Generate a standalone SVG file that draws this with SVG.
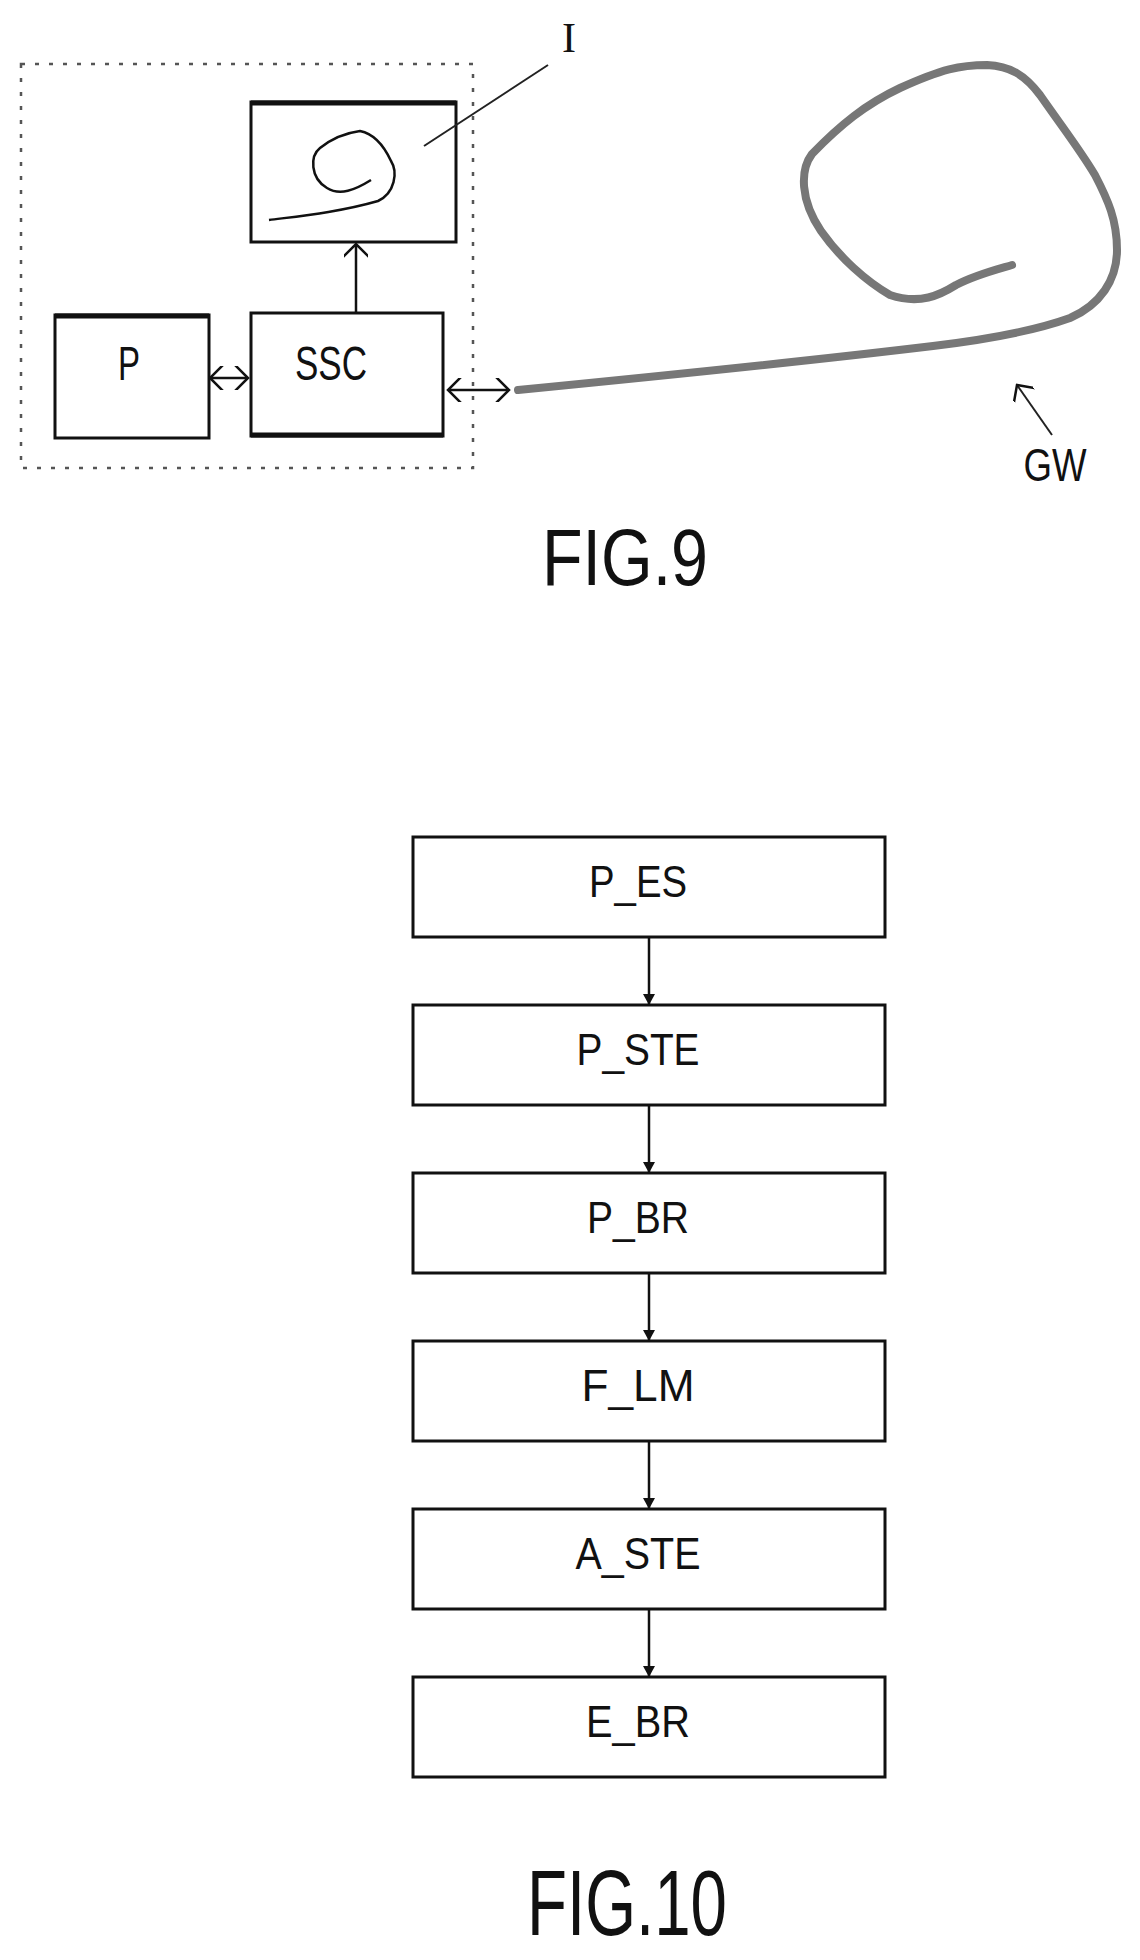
<svg xmlns="http://www.w3.org/2000/svg" width="1140" height="1960" viewBox="0 0 1140 1960">
<style>
.t{font-family:"Liberation Sans",Arial,sans-serif;fill:#111;text-anchor:middle}
.box{fill:#fff;stroke:#111;stroke-width:3}
.ln{stroke:#111;stroke-width:2.5;fill:none}
</style>
<defs>
<marker id="fa" markerWidth="12" markerHeight="12" refX="10" refY="6" orient="auto" markerUnits="userSpaceOnUse"><path d="M0,0 L11,6 L0,12 z" fill="#111"/></marker>
<marker id="sa" markerWidth="20" markerHeight="24" refX="18" refY="12" orient="auto-start-reverse" markerUnits="userSpaceOnUse"><path d="M2,-4 L18,12 L2,28" fill="none" stroke="#111" stroke-width="2.5"/></marker>
</defs>
<rect x="21" y="64" width="452" height="404" fill="none" stroke="#555" stroke-width="2.5" stroke-dasharray="4,10"/>
<g id="nodeI">
<rect class="box" x="251" y="102" width="205" height="140"/>
<line x1="251" y1="103" x2="456" y2="103" stroke="#111" stroke-width="5"/>
<path d="M269,220 C300,216 340,212 378,201 C395,193 398,172 391,161 C385,148 375,134 360,131 C345,133 330,140 320,148 C310,156 310,178 327,188 C340,196 355,190 371,180" class="ln" stroke-width="2"/>
</g>
<g id="nodeP">
<rect class="box" x="55" y="315" width="154" height="123"/>
<line x1="55" y1="316" x2="209" y2="316" stroke="#111" stroke-width="5"/>
<text class="t" x="129" y="380" font-size="48" textLength="22" lengthAdjust="spacingAndGlyphs">P</text>
</g>
<g id="nodeSSC">
<rect class="box" x="251" y="313" width="192" height="123"/>
<line x1="251" y1="435" x2="443" y2="435" stroke="#111" stroke-width="5"/>
<text class="t" x="331" y="380" font-size="48" textLength="72" lengthAdjust="spacingAndGlyphs">SSC</text>
</g>
<text x="569" y="52" font-family="Liberation Serif,serif" font-size="42" text-anchor="middle" fill="#111">I</text>
<line x1="548" y1="65" x2="424" y2="146" stroke="#222" stroke-width="2"/>
<path d="M518,390 C620,380 800,362 933,346 C1000,338 1045,327 1070,318 C1100,305 1117,280 1117,250 C1117,220 1108,200 1095,175 C1080,150 1068,135 1040,95 C1025,75 1010,66 987,65 C960,65 942,69 900,88 C866,104 840,125 812,154 C800,170 800,200 821,231 C840,258 866,281 890,295 C920,305 940,295 956,285 C975,275 995,270 1012,265" fill="none" stroke="#777" stroke-width="8" stroke-linecap="round"/>
<line x1="1052" y1="435" x2="1017" y2="385" stroke="#222" stroke-width="2" marker-end="url(#sa)"/>
<text class="t" x="1055" y="481" font-size="46" textLength="63" lengthAdjust="spacingAndGlyphs">GW</text>
<text class="t" x="625" y="585" font-size="80" textLength="166" lengthAdjust="spacingAndGlyphs">FIG.9</text>
<g id="nodeP_ES"><rect class="box" x="413" y="837" width="472" height="100"/><text class="t" x="638" y="897" font-size="44" textLength="98" lengthAdjust="spacingAndGlyphs">P_ES</text></g>
<g id="nodeP_STE"><rect class="box" x="413" y="1005" width="472" height="100"/><text class="t" x="638" y="1065" font-size="44" textLength="123" lengthAdjust="spacingAndGlyphs">P_STE</text></g>
<g id="nodeP_BR"><rect class="box" x="413" y="1173" width="472" height="100"/><text class="t" x="638" y="1233" font-size="44" textLength="102" lengthAdjust="spacingAndGlyphs">P_BR</text></g>
<g id="nodeF_LM"><rect class="box" x="413" y="1341" width="472" height="100"/><text class="t" x="638" y="1401" font-size="44" textLength="113" lengthAdjust="spacingAndGlyphs">F_LM</text></g>
<g id="nodeA_STE"><rect class="box" x="413" y="1509" width="472" height="100"/><text class="t" x="638" y="1569" font-size="44" textLength="125" lengthAdjust="spacingAndGlyphs">A_STE</text></g>
<g id="nodeE_BR"><rect class="box" x="413" y="1677" width="472" height="100"/><text class="t" x="638" y="1737" font-size="44" textLength="104" lengthAdjust="spacingAndGlyphs">E_BR</text></g>
<text class="t" x="627" y="1935" font-size="92" textLength="200" lengthAdjust="spacingAndGlyphs">FIG.10</text>
<g id="connectors">
<line class="ln" x1="356" y1="313" x2="356" y2="244" marker-end="url(#sa)"/>
<line class="ln" x1="210" y1="378" x2="248" y2="378" marker-start="url(#sa)" marker-end="url(#sa)"/>
<line class="ln" x1="448" y1="390" x2="509" y2="390" marker-start="url(#sa)" marker-end="url(#sa)"/>
<line class="ln" x1="649" y1="937" x2="649" y2="1004" marker-end="url(#fa)"/>
<line class="ln" x1="649" y1="1105" x2="649" y2="1172" marker-end="url(#fa)"/>
<line class="ln" x1="649" y1="1273" x2="649" y2="1340" marker-end="url(#fa)"/>
<line class="ln" x1="649" y1="1441" x2="649" y2="1508" marker-end="url(#fa)"/>
<line class="ln" x1="649" y1="1609" x2="649" y2="1676" marker-end="url(#fa)"/>
</g>
</svg>
